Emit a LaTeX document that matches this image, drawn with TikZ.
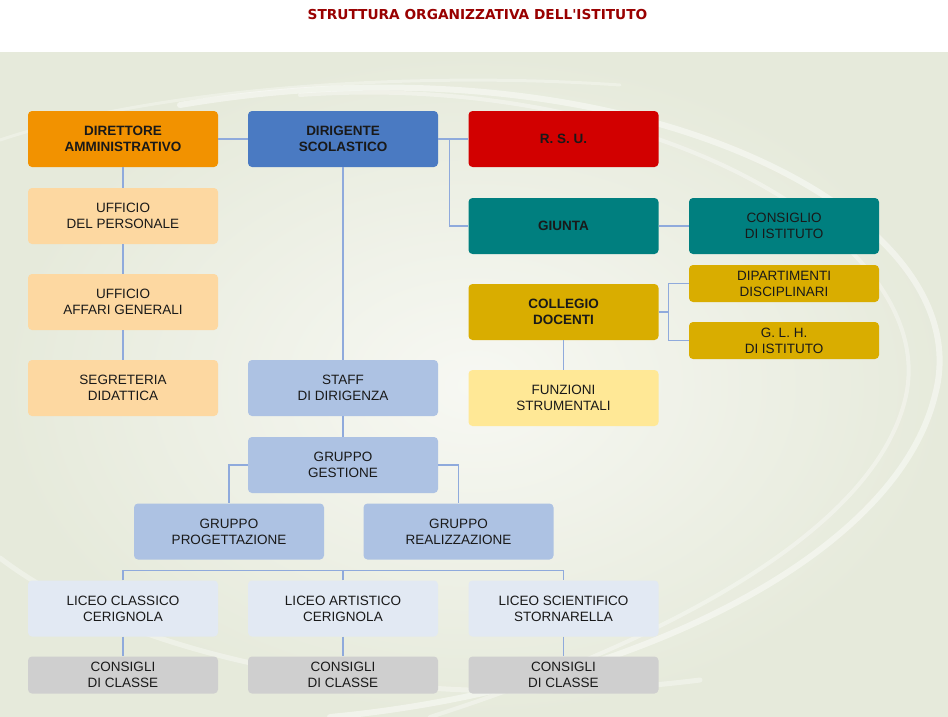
\documentclass[tikz,border=0pt]{standalone}
\usepackage{fontspec}
\setmainfont{Liberation Sans}
\newfontfamily\titlefont{DejaVu Sans}
\usetikzlibrary{calc}
\definecolor{dirorange}{HTML}{F29200}
\definecolor{dirblue}{HTML}{4A7AC2}
\definecolor{rsured}{HTML}{D20000}
\definecolor{uffcol}{HTML}{FDD8A1}
\definecolor{teal}{HTML}{007F7F}
\definecolor{gold}{HTML}{D9AD00}
\definecolor{funzcol}{HTML}{FFE896}
\definecolor{grpblue}{HTML}{ADC2E3}
\definecolor{licblue}{HTML}{E2E9F3}
\definecolor{consgrey}{HTML}{CFCFCF}
\definecolor{linkblue}{HTML}{8FAADC}
\definecolor{bgout}{HTML}{E6EADB}
\definecolor{bgin}{HTML}{F7F8F3}
\definecolor{titlered}{HTML}{990000}
\tikzset{
	ufficio/.style={
			rounded corners=4pt,
			minimum width=190pt,
			minimum height=56pt,
			inner sep=0pt,
			align=center,
			text=black!90,
			font=\fontsize{13.5}{16}\selectfont
		},
	capo/.style={ufficio,font=\fontsize{13.5}{16}\selectfont\bfseries},
	basso/.style={ufficio,minimum height=37pt},
	link/.style={draw=linkblue,line width=1.2pt},
	onda/.style={white,opacity=#1,line cap=round}
}

\begin{document}
\begin{tikzpicture}[x=1pt,y=-1pt]
			\useasboundingbox (0,0) rectangle (948,717);
			\fill[white](0,0) rectangle (948,717);
			\shade[inner color=bgin,outer color=bgout](0,53) rectangle (948,717);
			\draw[onda=0.45,line width=6pt](180,105) .. controls (620,30) and (985,210) .. (935,395) .. controls (895,560) and (620,690) .. (330,717);
			\draw[onda=0.35,line width=4pt](300,95) .. controls (650,70) and (945,240) .. (905,400) .. controls (870,540) and (640,650) .. (430,717);
			\draw[onda=0.3,line width=3pt](0,140) .. controls (150,90) and (400,70) .. (620,85);
			\draw[onda=0.35,line width=5pt](0,558) .. controls (140,665) and (420,715) .. (700,680);
			\node[font=\titlefont\fontsize{13.7}{16}\selectfont\bfseries,text=titlered] (titolo) at (477.5,15) {STRUTTURA ORGANIZZATIVA DELL'ISTITUTO};
			% prima riga
			\node[capo,fill=dirorange] (dir) at (123,139) {DIRETTORE\\AMMINISTRATIVO};
			\node[capo,fill=dirblue] (dirig) at (343,139) {DIRIGENTE\\SCOLASTICO};
			\node[capo,fill=rsured] (rsu) at (563.5,139) {R. S. U.};
			% uffici
			\node[ufficio,fill=uffcol] (uffpers) at (123,216) {UFFICIO\\DEL PERSONALE};
			\node[ufficio,fill=uffcol] (uffaff) at (123,302) {UFFICIO\\AFFARI GENERALI};
			\node[ufficio,fill=uffcol] (segr) at (123,388) {SEGRETERIA\\DIDATTICA};
			% organi collegiali
			\node[capo,fill=teal] (giunta) at (563.5,226) {GIUNTA};
			\node[ufficio,fill=teal] (consist) at (784,226) {CONSIGLIO\\DI ISTITUTO};
			\node[capo,fill=gold] (collegio) at (563.5,312) {COLLEGIO\\DOCENTI};
			\node[basso,fill=gold] (dipart) at (784,283.5) {DIPARTIMENTI\\DISCIPLINARI};
			\node[basso,fill=gold] (glh) at (784,340.5) {G. L. H.\\DI ISTITUTO};
			\node[ufficio,fill=funzcol] (funz) at (563.5,398) {FUNZIONI\\STRUMENTALI};
			% staff e gruppi
			\node[ufficio,fill=grpblue] (staff) at (343,388) {STAFF\\DI DIRIGENZA};
			\node[ufficio,fill=grpblue] (gestione) at (343,465) {GRUPPO\\GESTIONE};
			\node[ufficio,fill=grpblue] (progett) at (229,531.5) {GRUPPO\\PROGETTAZIONE};
			\node[ufficio,fill=grpblue] (realizz) at (458.5,531.5) {GRUPPO\\REALIZZAZIONE};
			% licei
			\node[ufficio,fill=licblue] (classico) at (123,608.5) {LICEO CLASSICO\\CERIGNOLA};
			\node[ufficio,fill=licblue] (artistico) at (343,608.5) {LICEO ARTISTICO\\CERIGNOLA};
			\node[ufficio,fill=licblue] (scientifico) at (563.5,608.5) {LICEO SCIENTIFICO\\STORNARELLA};
			\node[basso,fill=consgrey] (consA) at (123,675) {CONSIGLI\\DI CLASSE};
			\node[basso,fill=consgrey] (consB) at (343,675) {CONSIGLI\\DI CLASSE};
			\node[basso,fill=consgrey] (consC) at (563.5,675) {CONSIGLI\\DI CLASSE};
			% collegamenti
			\draw[link](dir.east)--(dirig.west);
			\draw[link](dirig.east)--(rsu.west);
			\draw[link](dirig.east)--++(11,0)|-(giunta.west);
			\draw[link](giunta.east)--(consist.west);
			\draw[link](dir.south)--(uffpers.north);
			\draw[link](uffpers.south)--(uffaff.north);
			\draw[link](uffaff.south)--(segr.north);
			\draw[link](dirig.south)--(staff.north);
			\draw[link](staff.south)--(gestione.north);
			\draw[link](gestione.west)-|(progett.north);
			\draw[link](gestione.east)-|(realizz.north);
			\draw[link](collegio.east)--++(10,0)coordinate(snodo);
			\draw[link](snodo)|-(dipart.west);
			\draw[link](snodo)|-(glh.west);
			\draw[link](collegio.south)--(funz.north);
			\draw[link](classico.north)--++(0,-10)-|(scientifico.north);
			\draw[link](artistico.north)--++(0,-10);
			\draw[link](classico.south)--(consA.north);
			\draw[link](artistico.south)--(consB.north);
			\draw[link](scientifico.south)--(consC.north);
		\end{tikzpicture}
\end{document}
